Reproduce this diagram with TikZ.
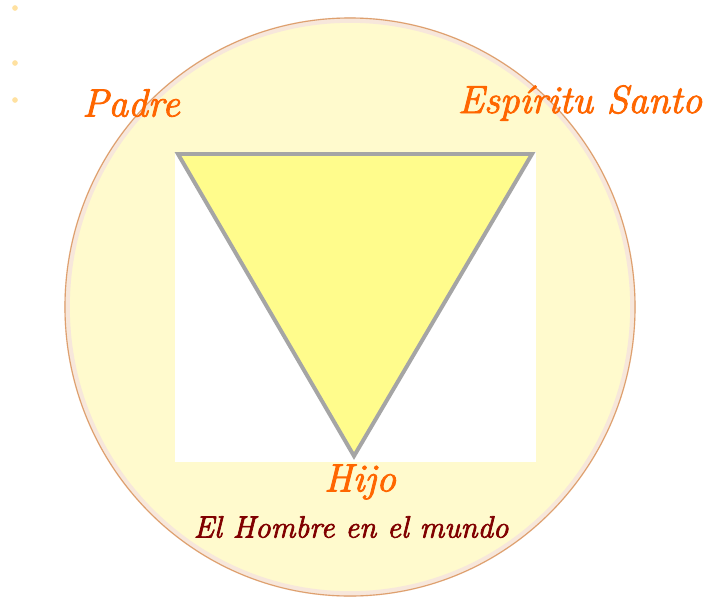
\documentclass[tikz,border=0pt]{standalone}
\usepackage{fontspec}
\newfontfamily\tagfont[ItalicFeatures={FakeBold=2.2}]{Latin Modern Roman}
\usepackage{xcolor}
\usepackage{tikz}
\usetikzlibrary{positioning}
\definecolor{orangetxt}{RGB}{255,102,0}
\definecolor{maroontxt}{RGB}{128,0,0}
\definecolor{discfill}{RGB}{255,250,205}
\definecolor{discedge}{RGB}{222,160,110}
\definecolor{trifill}{RGB}{255,252,140}
\definecolor{trigray}{RGB}{165,165,165}
\definecolor{bulletcol}{RGB}{255,225,160}

\begin{document}
\begin{tikzpicture}[
  x=0.025cm, y=-0.025cm,
  every node/.style={inner sep=0pt},
  person/.style={text=orangetxt, font=\fontsize{28}{30}\tagfont\itshape},
  subtitle/.style={text=maroontxt, font=\fontsize{22}{24}\tagfont\itshape},
  dot/.style={circle, fill=bulletcol, minimum size=4pt}
]
  \useasboundingbox (0,0) rectangle (709,598);

  % Disc with soft rim
  \fill[discfill] (350,307) ellipse [x radius=285, y radius=289];
  \draw[discedge!25, line width=4pt] (350,307) ellipse [x radius=283, y radius=287];
  \draw[discedge, line width=0.8pt] (350,307) ellipse [x radius=285, y radius=289];

  % Bullets at the left
  \node[dot] (b1) at (15,8) {};
  \node[dot] (b2) at (15,63) {};
  \node[dot] (b3) at (15,100) {};

  % White panel and triangle
  \fill[white] (175,152) rectangle (536,462);
  \draw[trigray, fill=trifill, line width=2.8pt, line join=miter]
    (178,154) -- (532,154) -- (354,456) -- cycle;

  % Labels
  \node[person] (padre) at (131,103) {Padre};
  \node[person] (espiritu) at (580,103) {Espíritu Santo};
  \node[person] (hijo) at (360,482) {Hijo};
  \node[subtitle] (hombre) at (351,527) {El Hombre en el mundo};

\end{tikzpicture}
\end{document}
